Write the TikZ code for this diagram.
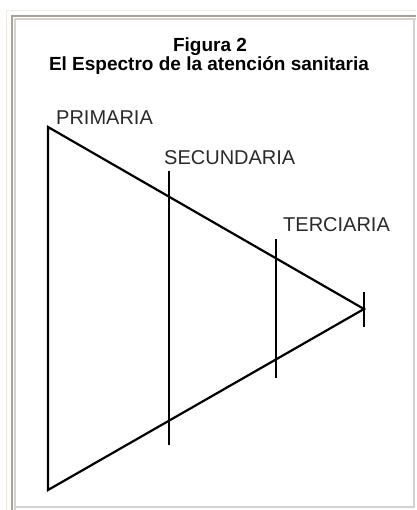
\documentclass[tikz,border=0pt]{standalone}
\usepackage{fontspec}
\setmainfont{Liberation Sans}
\definecolor{frameBeige}{HTML}{EEEBD9}
\definecolor{frameTaupe}{HTML}{A8A393}
\definecolor{frameGray}{HTML}{D2D2D2}
\definecolor{labelGray}{HTML}{2A2A2A}
\tikzset{
  level/.style={anchor=base west, inner sep=0pt, font=\fontsize{20}{22}\selectfont, text=labelGray},
  titleline/.style={anchor=base, inner sep=0pt, font=\bfseries\fontsize{19}{21}\selectfont},
  edge/.style={line width=2.2pt, black}
}
\begin{document}
\begin{tikzpicture}[x=1pt, y=-1pt]
    \useasboundingbox (0,0) rectangle (416,510);
    \fill[white] (0,0) rectangle (416,510);

    % frame
    \draw[frameBeige, line width=1.5pt] (6.5,510) -- (6.5,10.5) -- (416,10.5);
    \draw[frameTaupe, line width=2pt] (12,510) -- (12,16) -- (416,16);
    \draw[frameGray, line width=1.5pt] (15,510) -- (15,19) -- (416,19);
    \draw[frameGray, line width=1.5pt] (414,19) -- (414,507) -- (15,507);

    % title
    \node[titleline] (fig) at (210,52) {Figura 2};
    \node[titleline] (title) at (209,71) {El Espectro de la atención sanitaria};

    % triangle
    \coordinate (top) at (48,127);
    \coordinate (bottom) at (48,490);
    \coordinate (apex) at (364,309);
    \draw[edge, line join=miter] (apex) -- (top) -- (bottom) -- cycle;

    % level marks
    \coordinate (secTop) at (169,171);
    \coordinate (secBot) at (169,445);
    \coordinate (terTop) at (276,239);
    \coordinate (terBot) at (276,378);
    \coordinate (apexTop) at (364,292);
    \coordinate (apexBot) at (364,327);
    \draw[edge] (secTop) -- (secBot);
    \draw[edge] (terTop) -- (terBot);
    \draw[edge] (apexTop) -- (apexBot);

    % labels
    \node[level] (prim) at (56,125) {PRIMARIA};
    \node[level] (sec) at (164,165) {SECUNDARIA};
    \node[level] (ter) at (283,232) {TERCIARIA};
  \end{tikzpicture}
\end{document}
